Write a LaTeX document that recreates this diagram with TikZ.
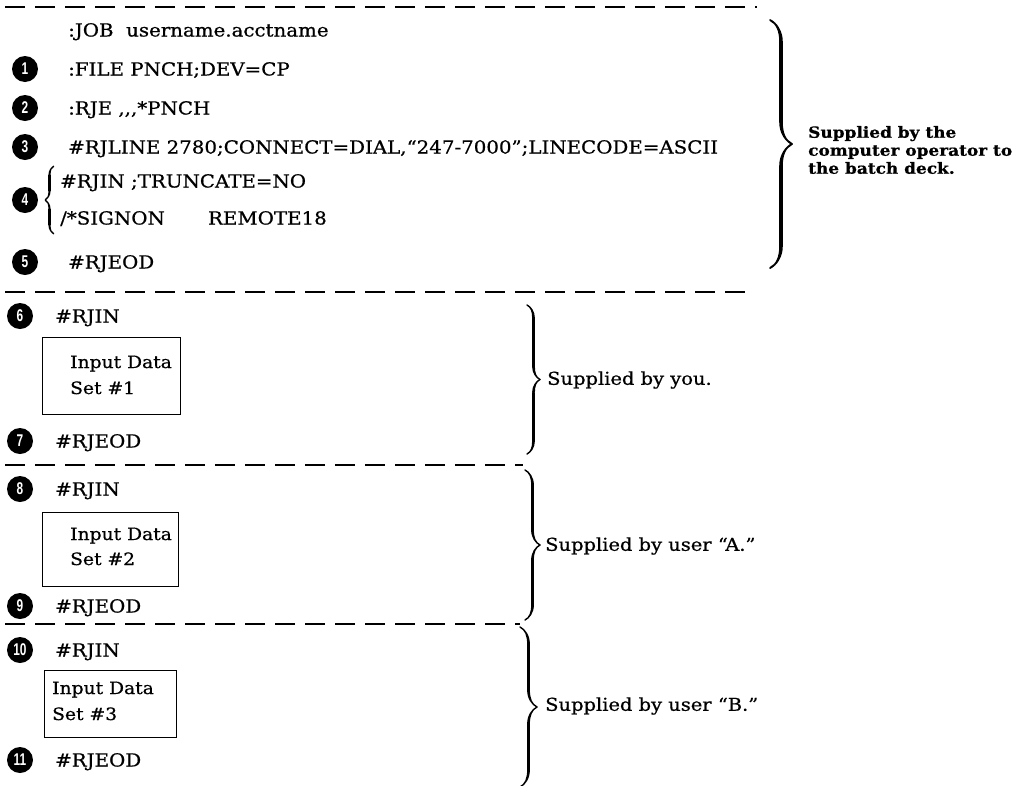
\documentclass[tikz,border=0pt]{standalone}
\usepackage{fontspec}
\setmainfont{DejaVu Serif}
\newfontfamily\cf[FakeStretch=1.1,FakeBold=0.7]{DejaVu Serif}
\newfontfamily\numfont[FakeStretch=0.7]{Liberation Sans}
\usetikzlibrary{decorations.pathreplacing,calligraphy}
\begin{document}
\begin{tikzpicture}[x=1pt,y=-1pt,
  txt/.style={anchor=west,inner sep=0pt,text height=13pt,text depth=0pt,font=\cf\fontsize{18}{20}\selectfont},
  boxtxt/.style={anchor=west,inner sep=0pt,text height=12pt,text depth=0pt,font=\cf\fontsize{17}{19}\selectfont},
  num/.style={circle,fill=black,text=white,minimum size=26pt,inner sep=0pt,font=\numfont\bfseries\fontsize{17}{17}\selectfont},
  sep/.style={line width=1.8pt,dash pattern=on 20pt off 10pt},
  databox/.style={draw,line width=1.2pt,inner sep=0pt},
  brc/.style={decorate,decoration={calligraphic brace,amplitude=#1},line width=3.6pt},
  note/.style={anchor=west,inner sep=0pt,align=left,font=\cf\fontsize{17.7}{20}\selectfont}
]
\useasboundingbox (0,0) rectangle (1019,785);

% separators
\coordinate (s0a) at (5,7);   \coordinate (s0b) at (757,7);
\coordinate (s1a) at (5,292); \coordinate (s1b) at (753,292);
\coordinate (s2a) at (5,465); \coordinate (s2b) at (523,465);
\coordinate (s3a) at (5,624); \coordinate (s3b) at (520,624);
\draw[sep] (s0a) -- (s0b);
\draw[sep] (s1a) -- (s1b);
\draw[sep] (s2a) -- (s2b);
\draw[sep] (s3a) -- (s3b);

% section 1
\node[txt] (job) at (68,30) {:JOB\ \ username.acctname};
\node[num] (n1) at (25,69) {1};
\node[txt] (file) at (68,69) {:FILE PNCH;DEV=CP};
\node[num] (n2) at (25,108) {2};
\node[txt] (rje) at (68,108) {:RJE ,{},{},*PNCH};
\node[num] (n3) at (25,147) {3};
\node[txt] (rjline) at (68,147) {\#RJLINE 2780;CONNECT=DIAL,“247-7000”;LINECODE=ASCII};
\node[num] (n4) at (25,200) {4};
\node[txt] (trunc) at (60,181) {\#RJIN ;TRUNCATE=NO};
\node[txt] (signon) at (60,218) {/*SIGNON\hspace{2.4em}REMOTE18};
\coordinate (b4t) at (54,166);
\coordinate (b4b) at (54,234);
\draw[brc=9pt,line width=2.2pt] (b4b) -- (b4t);
\node[num] (n5) at (25,262) {5};
\node[txt] (eod1) at (68,262) {\#RJEOD};

\coordinate (b1t) at (770,20);
\coordinate (b1b) at (770,268);
\draw[brc=22pt] (b1t) -- (b1b);
\node[note,font=\cf\bfseries\fontsize{15.4}{18}\selectfont] (op) at (808,150) {Supplied by the\\computer operator to\\the batch deck.};

% section 2
\node[num] (n6) at (20,316) {6};
\node[txt] (in1) at (55,316) {\#RJIN};
\node[databox,anchor=north west,minimum width=138pt,minimum height=77pt] (box1) at (42,337) {};
\node[boxtxt] (d1a) at (70,362) {Input Data};
\node[boxtxt] (d1b) at (70,388) {Set \#1};
\node[num] (n7) at (20,441) {7};
\node[txt] (eod2) at (55,441) {\#RJEOD};
\coordinate (b2t) at (527,305);
\coordinate (b2b) at (527,454);
\draw[brc=13pt,line width=2.8pt] (b2t) -- (b2b);
\node[note] (you) at (547,380) {Supplied by you.};

% section 3
\node[num] (n8) at (20,489) {8};
\node[txt] (in2) at (55,489) {\#RJIN};
\node[databox,anchor=north west,minimum width=136pt,minimum height=74pt] (box2) at (42,512) {};
\node[boxtxt] (d2a) at (70,534) {Input Data};
\node[boxtxt] (d2b) at (70,559) {Set \#2};
\node[num] (n9) at (20,606) {9};
\node[txt] (eod3) at (55,606) {\#RJEOD};
\coordinate (b3t) at (525,470);
\coordinate (b3b) at (525,620);
\draw[brc=15pt,line width=2.8pt] (b3t) -- (b3b);
\node[note] (usra) at (545,546) {Supplied by user “A.”};

% section 4
\node[num] (n10) at (20,650) {10};
\node[txt] (in3) at (55,650) {\#RJIN};
\node[databox,anchor=north west,minimum width=132pt,minimum height=67pt] (box3) at (44,670) {};
\node[boxtxt] (d3a) at (52,688) {Input Data};
\node[boxtxt] (d3b) at (52,714) {Set \#3};
\node[num] (n11) at (20,760) {11};
\node[txt] (eod4) at (55,760) {\#RJEOD};
\coordinate (b5t) at (520,627);
\coordinate (b5b) at (520,787);
\draw[brc=17pt,line width=2.8pt] (b5t) -- (b5b);
\node[note] (usrb) at (545,706) {Supplied by user “B.”};
\end{tikzpicture}
\end{document}
